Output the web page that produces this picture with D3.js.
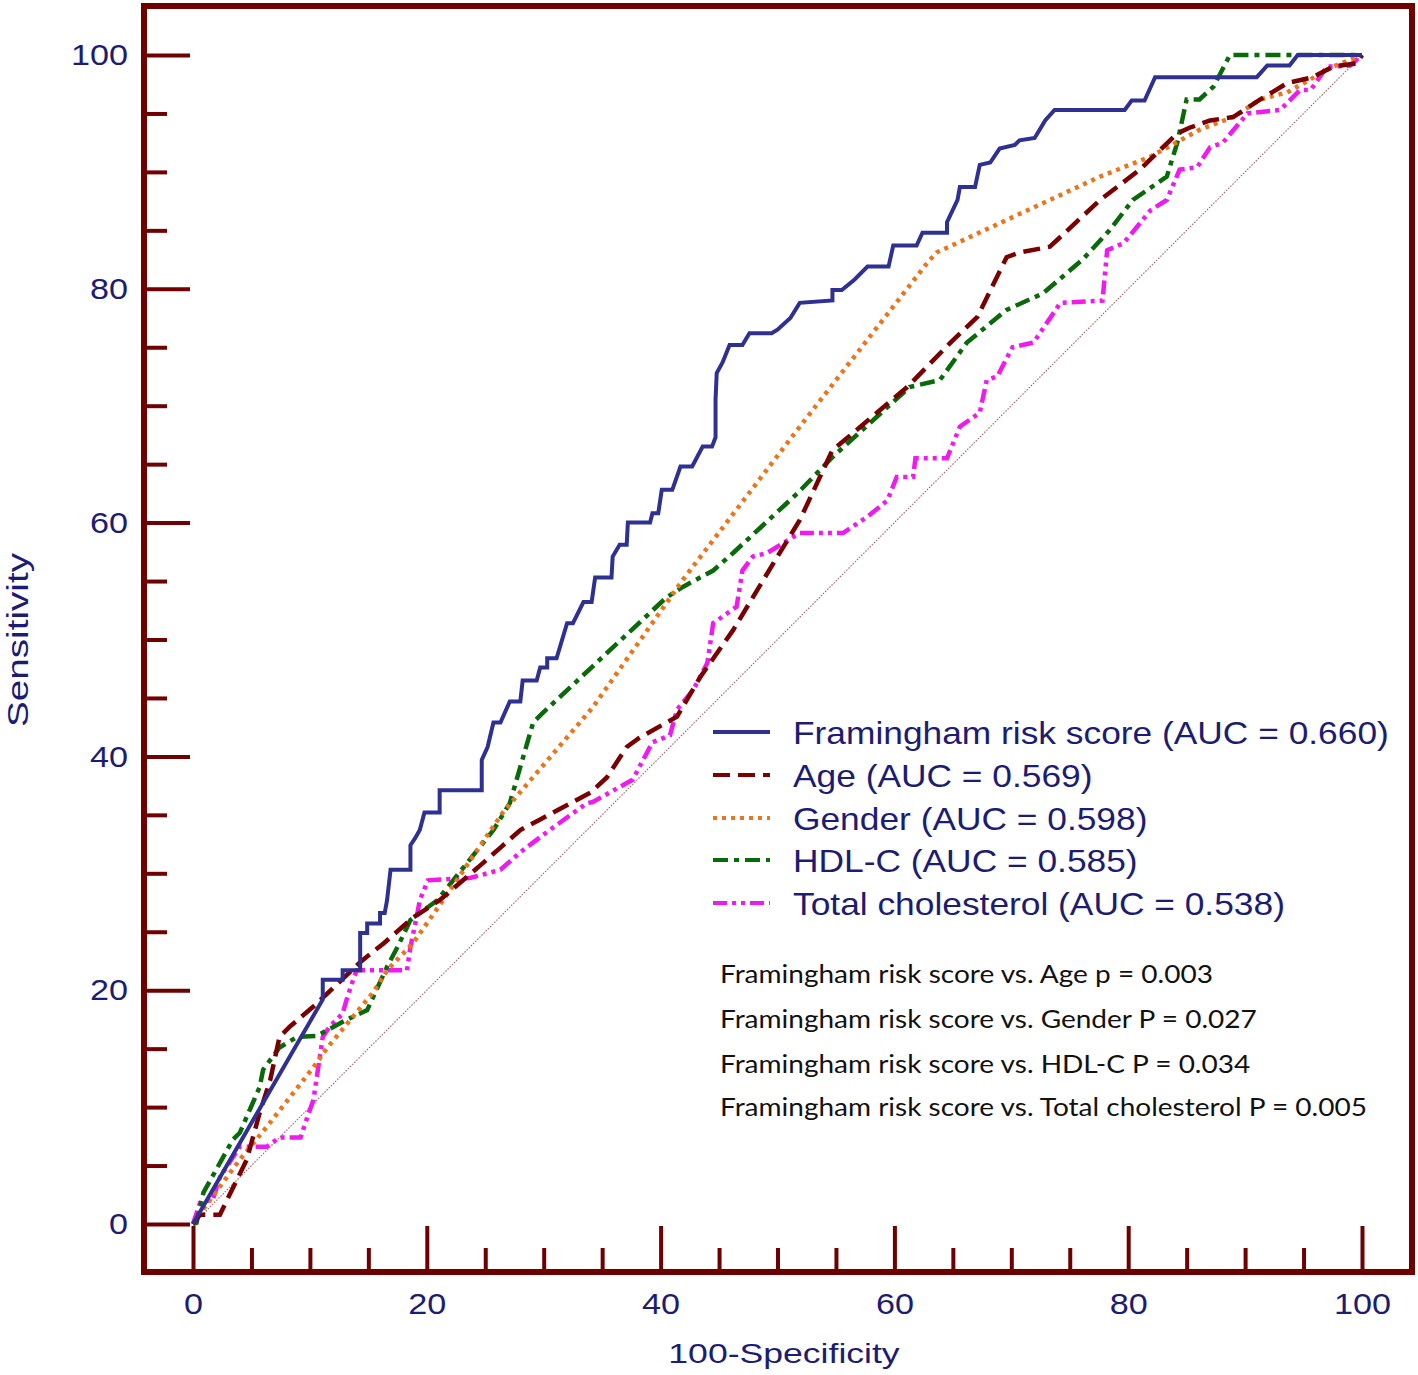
<!DOCTYPE html>
<html><head><meta charset="utf-8">
<script src="https://cdn.jsdelivr.net/npm/d3@7"></script>
<style>html,body{margin:0;padding:0;background:#fff}svg{display:block}</style>
</head><body>
<script>
// ---- data (100-Specificity, Sensitivity) in percent ----
const framingham = [[0,0],[11.1,19.2],[11.1,20.9],[12.8,20.9],[12.8,21.7],[14.3,21.7],[14.3,24.9],[14.9,24.9],[14.9,25.7],[16.0,25.7],[16.0,26.6],[16.4,26.6],[16.6,27.7],[16.9,30.3],[18.6,30.3],[18.6,32.4],[19.0,33.0],[19.4,33.7],[19.8,35.2],[21.1,35.2],[21.1,37.1],[24.7,37.1],[24.7,39.7],[25.2,40.8],[25.7,42.9],[26.3,42.9],[27.1,44.7],[28.0,44.7],[28.2,46.5],[29.4,46.5],[29.7,47.6],[30.3,47.6],[30.3,48.4],[31.1,48.4],[32.0,51.4],[32.5,51.4],[33.4,53.2],[34.1,53.2],[34.4,55.3],[35.8,55.3],[35.9,57.1],[36.5,58.1],[37.1,58.1],[37.2,60.0],[39.1,60.0],[39.3,60.8],[39.8,60.8],[40.1,62.8],[41.0,62.8],[41.7,64.8],[42.7,64.8],[43.6,66.5],[44.4,66.5],[44.7,67.3],[44.7,70.5],[44.8,72.8],[45.3,73.7],[45.9,75.2],[47.0,75.2],[47.6,76.2],[49.5,76.2],[50.0,76.5],[51.1,77.5],[51.9,78.8],[54.7,79.0],[54.7,79.9],[55.5,79.9],[56.6,80.8],[57.7,81.9],[59.5,81.9],[59.9,83.7],[61.9,83.7],[62.4,84.8],[64.5,84.8],[64.5,85.7],[65.4,87.6],[65.6,88.7],[66.9,88.7],[67.3,90.6],[68.2,90.8],[69.0,92.0],[70.3,92.3],[70.7,92.7],[72.0,92.9],[72.9,94.4],[73.7,95.3],[79.7,95.3],[80.3,96.1],[81.4,96.1],[82.3,98.1],[91.0,98.1],[91.9,99.1],[93.8,99.1],[94.5,100],[100,100]];
const age = [[0,0],[0.6,0.8],[2.3,0.8],[4.6,5.5],[5.7,9.5],[6.6,12.3],[7.4,16.0],[8.3,16.9],[10.3,18.6],[12.0,20.2],[14.3,22.4],[16.3,24.0],[18.8,26.2],[21.1,27.7],[24.6,30.7],[26.3,32.2],[28.0,33.7],[29.7,34.6],[34.0,36.9],[35.4,38.2],[37.1,40.8],[38.2,41.6],[41.4,43.4],[43.4,46.8],[46.2,50.8],[50.0,57.1],[51.9,60.2],[54.7,66.2],[55.8,67.1],[58.5,69.4],[61.1,71.6],[64.8,75.4],[67.1,77.6],[69.6,82.7],[70.7,83.1],[73.3,83.6],[77.6,87.6],[81.0,90.2],[84.2,93.3],[85.3,93.8],[87.0,94.4],[89.0,94.7],[91.3,96.2],[93.6,97.6],[95.8,98.1],[97.5,99.0],[99.6,99.3],[100,100]];
const gender = [[0,0],[0.6,0.9],[4.0,5.5],[6.3,8.3],[10.3,13.4],[11.5,15.1],[15.4,19.8],[16.6,21.7],[18.8,24.0],[21.4,27.7],[26.5,35.2],[34.2,44.2],[41.9,55.1],[51.9,68.2],[62.8,82.2],[63.6,83.1],[77.6,89.6],[81.9,91.3],[86.1,93.6],[89.0,94.7],[91.3,96.2],[93.6,96.8],[97.5,99.0],[100,100]];
const hdlc = [[0,0],[0.3,0.1],[0.9,2.7],[3.4,7.2],[4.0,7.8],[5.7,11.7],[6.0,13.2],[7.4,15.1],[8.9,16.0],[10.6,16.1],[13.2,17.5],[14.9,18.3],[16.6,22.0],[17.5,23.7],[18.6,26.0],[20.9,27.7],[25.7,33.7],[27.1,36.0],[29.1,42.9],[29.9,43.7],[40.5,53.6],[41.9,54.5],[44.5,55.9],[46.2,57.4],[51.7,62.5],[54.7,65.6],[61.3,71.6],[63.9,72.2],[66.2,75.4],[69.6,78.2],[72.7,79.6],[76.1,82.5],[78.4,85.0],[80.4,87.6],[83.3,89.6],[84.2,92.5],[85.0,96.2],[86.1,96.2],[87.3,97.3],[88.7,100],[100,100]];
const totalChol = [[0,0],[0.6,1.8],[1.7,2.1],[2.3,4.0],[4.0,6.6],[6.3,6.6],[7.4,7.4],[9.2,7.4],[9.8,9.2],[10.3,10.6],[11.1,16.0],[11.7,16.9],[12.8,18.0],[13.2,19.4],[13.7,20.9],[14.0,21.7],[18.3,21.7],[18.6,23.7],[19.2,26.6],[19.4,27.7],[20.1,29.4],[23.7,29.6],[26.3,30.3],[28.0,31.8],[30.5,33.7],[33.7,36.0],[34.2,36.1],[37.6,38.0],[39.3,41.2],[40.8,41.8],[41.4,44.0],[42.8,45.7],[44.0,48.0],[44.5,51.4],[46.5,52.8],[47.0,55.9],[47.9,57.1],[49.1,57.4],[51.9,59.1],[55.6,59.1],[57.7,60.5],[59.4,61.9],[60.2,63.9],[61.6,63.9],[61.8,65.5],[64.5,65.5],[65.6,68.2],[67.3,69.4],[67.9,72.2],[68.8,72.5],[70.1,75.0],[71.9,75.4],[74.2,78.8],[77.8,79.0],[78.2,83.3],[79.6,83.9],[81.9,86.7],[83.3,87.6],[84.4,90.2],[85.9,90.4],[87.0,92.1],[88.1,92.5],[90.2,95.0],[93.0,95.3],[94.7,97.0],[95.6,97.0],[97.0,99.0],[99.0,99.1],[100,100]];
const diagonal = [[0,0],[100,100]];
const seriesNames = ["Framingham risk score (AUC = 0.660)","Age (AUC = 0.569)","Gender (AUC = 0.598)","HDL-C (AUC = 0.585)","Total cholesterol (AUC = 0.538)"];
const pTexts = ["Framingham risk score vs. Age p = 0.003","Framingham risk score vs. Gender P = 0.027","Framingham risk score vs. HDL-C P = 0.034","Framingham risk score vs. Total cholesterol P = 0.005"];
const majorTicks = [0,20,40,60,80,100];
const minorTicks = d3.range(0,101,5).filter(v=>v%20!==0);
const xTitle = "100-Specificity", yTitle = "Sensitivity";

// ---- drawing ----
const W=1418,H=1375;
const frameColor="#6e0000", textColor="#1c1c72";
const sans="'Liberation Sans',Arial,sans-serif";
const svg=d3.select("body").append("svg").attr("width",W).attr("height",H);
const x=d3.scaleLinear().domain([0,100]).range([193,1362]);
const y=d3.scaleLinear().domain([0,100]).range([1224,55]);
const frame={l:144,t:6,r:1412,b:1272};

// widen text horizontally (reference glyphs are stretched)
function stretch(sel,f){
  sel.each(function(){
    const L=this.getComputedTextLength();
    d3.select(this).attr("textLength",(L*f).toFixed(1)).attr("lengthAdjust","spacingAndGlyphs");
  });
}

const styles=[
 {data:framingham,color:"#2e3192",dash:null,w:4},
 {data:age,color:"#7a0000",dash:"17,8",w:4.5},
 {data:gender,color:"#e8761e",dash:"4,5",w:4.5},
 {data:hdlc,color:"#0a6a0a",dash:"15,6,5,6",w:4.5},
 {data:totalChol,color:"#ee1aee",dash:"14,5,4,5,4,5",w:4.5}
];
const line=d3.line().x(d=>x(d[0])).y(d=>y(d[1]));

svg.append("path").datum(diagonal).attr("d",line).attr("fill","none")
  .attr("stroke","#a86a6a").attr("stroke-width",1.2).attr("stroke-dasharray","1.5,1.5");

[4,3,2,1,0].forEach(i=>{
  const s=styles[i];
  svg.append("path").datum(s.data).attr("d",line).attr("fill","none")
    .attr("stroke",s.color).attr("stroke-width",s.w)
    .attr("stroke-dasharray",s.dash).attr("stroke-linejoin","miter");
});

// axes
const yMajor=d3.axisLeft(y).tickValues(majorTicks).tickSizeInner(-46).tickSizeOuter(0).tickPadding(16);
const yMinor=d3.axisLeft(y).tickValues(minorTicks).tickSizeInner(-23).tickSizeOuter(0).tickFormat("");
const xMajor=d3.axisBottom(x).tickValues(majorTicks).tickSizeInner(-46).tickSizeOuter(0).tickPadding(21);
const xMinor=d3.axisBottom(x).tickValues(minorTicks).tickSizeInner(-24).tickSizeOuter(0).tickFormat("");
function styleAxis(g){
  g.select(".domain").remove();
  g.selectAll(".tick line").attr("stroke",frameColor).attr("stroke-width",4);
  g.selectAll("text").attr("fill",textColor).style("font-family",sans).style("font-size","30px");
}
svg.append("g").attr("transform",`translate(${frame.l},0)`).call(yMinor).call(styleAxis);
const gy=svg.append("g").attr("transform",`translate(${frame.l},0)`).call(yMajor).call(styleAxis);
svg.append("g").attr("transform",`translate(0,${frame.b})`).call(xMinor).call(styleAxis);
const gx=svg.append("g").attr("transform",`translate(0,${frame.b})`).call(xMajor).call(styleAxis);
gx.selectAll("text").attr("dy","0.71em");
stretch(gy.selectAll("text"),1.14);
stretch(gx.selectAll("text"),1.14);

// frame
svg.append("rect").attr("x",frame.l).attr("y",frame.t).attr("width",frame.r-frame.l).attr("height",frame.b-frame.t)
  .attr("fill","none").attr("stroke",frameColor).attr("stroke-width",6);

// axis titles
const xt=svg.append("text").attr("x",784).attr("y",1363).attr("text-anchor","middle")
  .attr("fill",textColor).style("font-family",sans).style("font-size","28px").text(xTitle);
stretch(xt,1.27);
const yt=svg.append("text").attr("transform","translate(28,640) rotate(-90)").attr("text-anchor","middle")
  .attr("fill",textColor).style("font-family",sans).style("font-size","29px").text(yTitle);
yt.attr("textLength",174).attr("lengthAdjust","spacingAndGlyphs");

// legend
const legY=[732,775,818,860,903];
styles.forEach((s,i)=>{
  svg.append("line").attr("x1",713).attr("x2",770).attr("y1",legY[i]).attr("y2",legY[i])
    .attr("stroke",s.color).attr("stroke-width",4).attr("stroke-dasharray",s.dash);
  const t=svg.append("text").attr("x",793).attr("y",legY[i]).attr("dy","0.36em")
    .attr("fill",textColor).style("font-family",sans).style("font-size","32px").text(seriesNames[i]);
  stretch(t,1.104);
});

// p-value annotations
const pY=[974,1019,1064,1107];
pTexts.forEach((tx,i)=>{
  const t=svg.append("text").attr("x",720).attr("y",pY[i]).attr("dy","0.35em").attr("fill","#111")
    .style("font-family","Lato,'Open Sans',sans-serif").style("font-size","25px").text(tx);
  stretch(t,1.12);
});
</script>
</body></html>
